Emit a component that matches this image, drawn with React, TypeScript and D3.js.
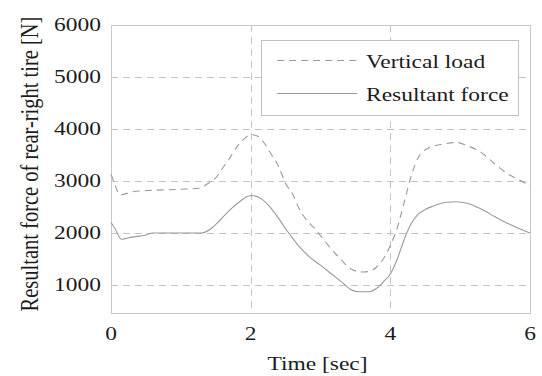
import React from "react";
import * as d3 from "d3";

// Time samples [sec] and the two force series [N]
const timeVertical = [0, 0.05, 0.13, 0.3, 0.6, 1.0, 1.25, 1.4, 1.5, 1.6, 1.7, 1.8, 1.9, 2.0, 2.1, 2.2, 2.3, 2.4, 2.5, 2.6, 2.7, 2.8, 2.9, 3.0, 3.1, 3.2, 3.3, 3.4, 3.5, 3.6, 3.7, 3.8, 3.9, 4.0, 4.1, 4.2, 4.3, 4.4, 4.5, 4.6, 4.8, 4.95, 5.1, 5.3, 5.5, 5.7, 5.85, 6.0];
const verticalLoad = [3130, 2950, 2730, 2790, 2820, 2840, 2860, 2960, 3060, 3250, 3440, 3650, 3800, 3890, 3860, 3720, 3500, 3280, 2950, 2750, 2450, 2250, 2110, 1950, 1780, 1620, 1480, 1340, 1270, 1250, 1260, 1340, 1500, 1760, 2100, 2600, 3100, 3450, 3600, 3660, 3720, 3740, 3680, 3550, 3320, 3120, 3020, 2900];

const timeResultant = [0, 0.05, 0.15, 0.3, 0.5, 0.6, 1.3, 1.45, 1.55, 1.7, 1.85, 1.95, 2.03, 2.15, 2.25, 2.4, 2.5, 2.6, 2.7, 2.85, 3.0, 3.15, 3.3, 3.45, 3.55, 3.7, 3.8, 3.9, 4.0, 4.1, 4.2, 4.3, 4.4, 4.5, 4.6, 4.8, 4.95, 5.1, 5.3, 5.5, 5.7, 5.85, 6.0];
const resultantForce = [2200, 2100, 1880, 1920, 1960, 2000, 2000, 2100, 2230, 2440, 2610, 2700, 2720, 2660, 2540, 2280, 2080, 1900, 1730, 1530, 1380, 1220, 1060, 900, 870, 870, 930, 1060, 1210, 1500, 1880, 2180, 2360, 2450, 2510, 2590, 2600, 2570, 2460, 2310, 2170, 2080, 2000];

const xTicks = [0, 2, 4, 6];
const yTicks = [1000, 2000, 3000, 4000, 5000, 6000];
const xDomain = [0, 6];
const yDomain = [460, 6000];

const legendLabels = ["Vertical load", "Resultant force"];
const xLabel = "Time [sec]";
const yLabel = "Resultant force of rear-right tire [N]";

const W = 542;
const H = 376;
const plot = { left: 111, right: 530, top: 25, bottom: 313 };
const SX = 1.27; // horizontal stretch of glyphs
const FONT = "'Liberation Serif', 'Times New Roman', serif";
const FS = 18.5;
const FS_Y = 20.5;
const TEXT = "#1c1c1c";
const GRID = "#c4c4c4";
const CURVE = "#9a9a9a";

export default function App() {
  const x = d3.scaleLinear().domain(xDomain).range([plot.left, plot.right]);
  const y = d3.scaleLinear().domain(yDomain).range([plot.bottom, plot.top]);

  const line = d3
    .line<[number, number]>()
    .x((d) => x(d[0]))
    .y((d) => y(d[1]))
    .curve(d3.curveMonotoneX);

  const vPath = line(timeVertical.map((t, i) => [t, verticalLoad[i]]) as [number, number][]) || "";
  const rPath = line(timeResultant.map((t, i) => [t, resultantForce[i]]) as [number, number][]) || "";

  const stretched = (tx: number, ty: number) => `translate(${tx},${ty}) scale(${SX},1)`;

  const legend = { x0: 261, x1: 518, y0: 40, y1: 115 };

  return (
    <svg width={W} height={H} style={{ display: "block", position: "absolute", left: 0, top: 0 }}>
      <rect width={W} height={H} fill="#fff" />
      {/* grid */}
      {yTicks
        .filter((v) => v < yDomain[1])
        .map((v) => (
          <line key={"gy" + v} x1={plot.left} x2={plot.right} y1={Math.round(y(v)) + 0.5} y2={Math.round(y(v)) + 0.5} stroke={GRID} strokeDasharray="7,5" />
        ))}
      {xTicks
        .filter((v) => v > xDomain[0] && v < xDomain[1])
        .map((v) => (
          <line key={"gx" + v} x1={Math.round(x(v)) + 0.5} x2={Math.round(x(v)) + 0.5} y1={plot.top} y2={plot.bottom} stroke={GRID} strokeDasharray="7,5" />
        ))}
      {/* frame */}
      <rect x={plot.left + 0.5} y={plot.top + 0.5} width={plot.right - plot.left} height={plot.bottom - plot.top} fill="none" stroke="#c8c8c8" />
      {/* curves */}
      <path d={vPath} fill="none" stroke={CURVE} strokeWidth={1.1} strokeDasharray="7,5" />
      <path d={rPath} fill="none" stroke={CURVE} strokeWidth={1.1} />
      {/* legend */}
      <rect x={legend.x0 + 0.5} y={legend.y0 + 0.5} width={legend.x1 - legend.x0} height={legend.y1 - legend.y0} fill="#fff" stroke="#c0c0c0" />
      <line x1={277} x2={357} y1={60.5} y2={60.5} stroke={CURVE} strokeWidth={1.1} strokeDasharray="7,5" />
      <line x1={277} x2={357} y1={93.5} y2={93.5} stroke={CURVE} strokeWidth={1.1} />
      <text transform={stretched(366, 68)} fontFamily={FONT} fontSize={FS} fill={TEXT}>{legendLabels[0]}</text>
      <text transform={stretched(366, 101)} fontFamily={FONT} fontSize={FS} fill={TEXT}>{legendLabels[1]}</text>
      {/* y tick labels */}
      {yTicks.map((v) => (
        <text key={"ty" + v} transform={stretched(101, y(v) + 6)} textAnchor="end" fontFamily={FONT} fontSize={FS} fill={TEXT}>{v}</text>
      ))}
      {/* x tick labels */}
      {xTicks.map((v) => (
        <text key={"tx" + v} transform={stretched(x(v), 340)} textAnchor="middle" fontFamily={FONT} fontSize={FS} fill={TEXT}>{v}</text>
      ))}
      <text transform={stretched((plot.left + plot.right) / 2 - 3, 370)} textAnchor="middle" fontFamily={FONT} fontSize={FS} fill={TEXT}>{xLabel}</text>
      <text transform={`translate(37.5,164) rotate(-90) scale(1,${SX})`} textAnchor="middle" fontFamily={FONT} fontSize={FS_Y} fill={TEXT}>{yLabel}</text>
    </svg>
  );
}
